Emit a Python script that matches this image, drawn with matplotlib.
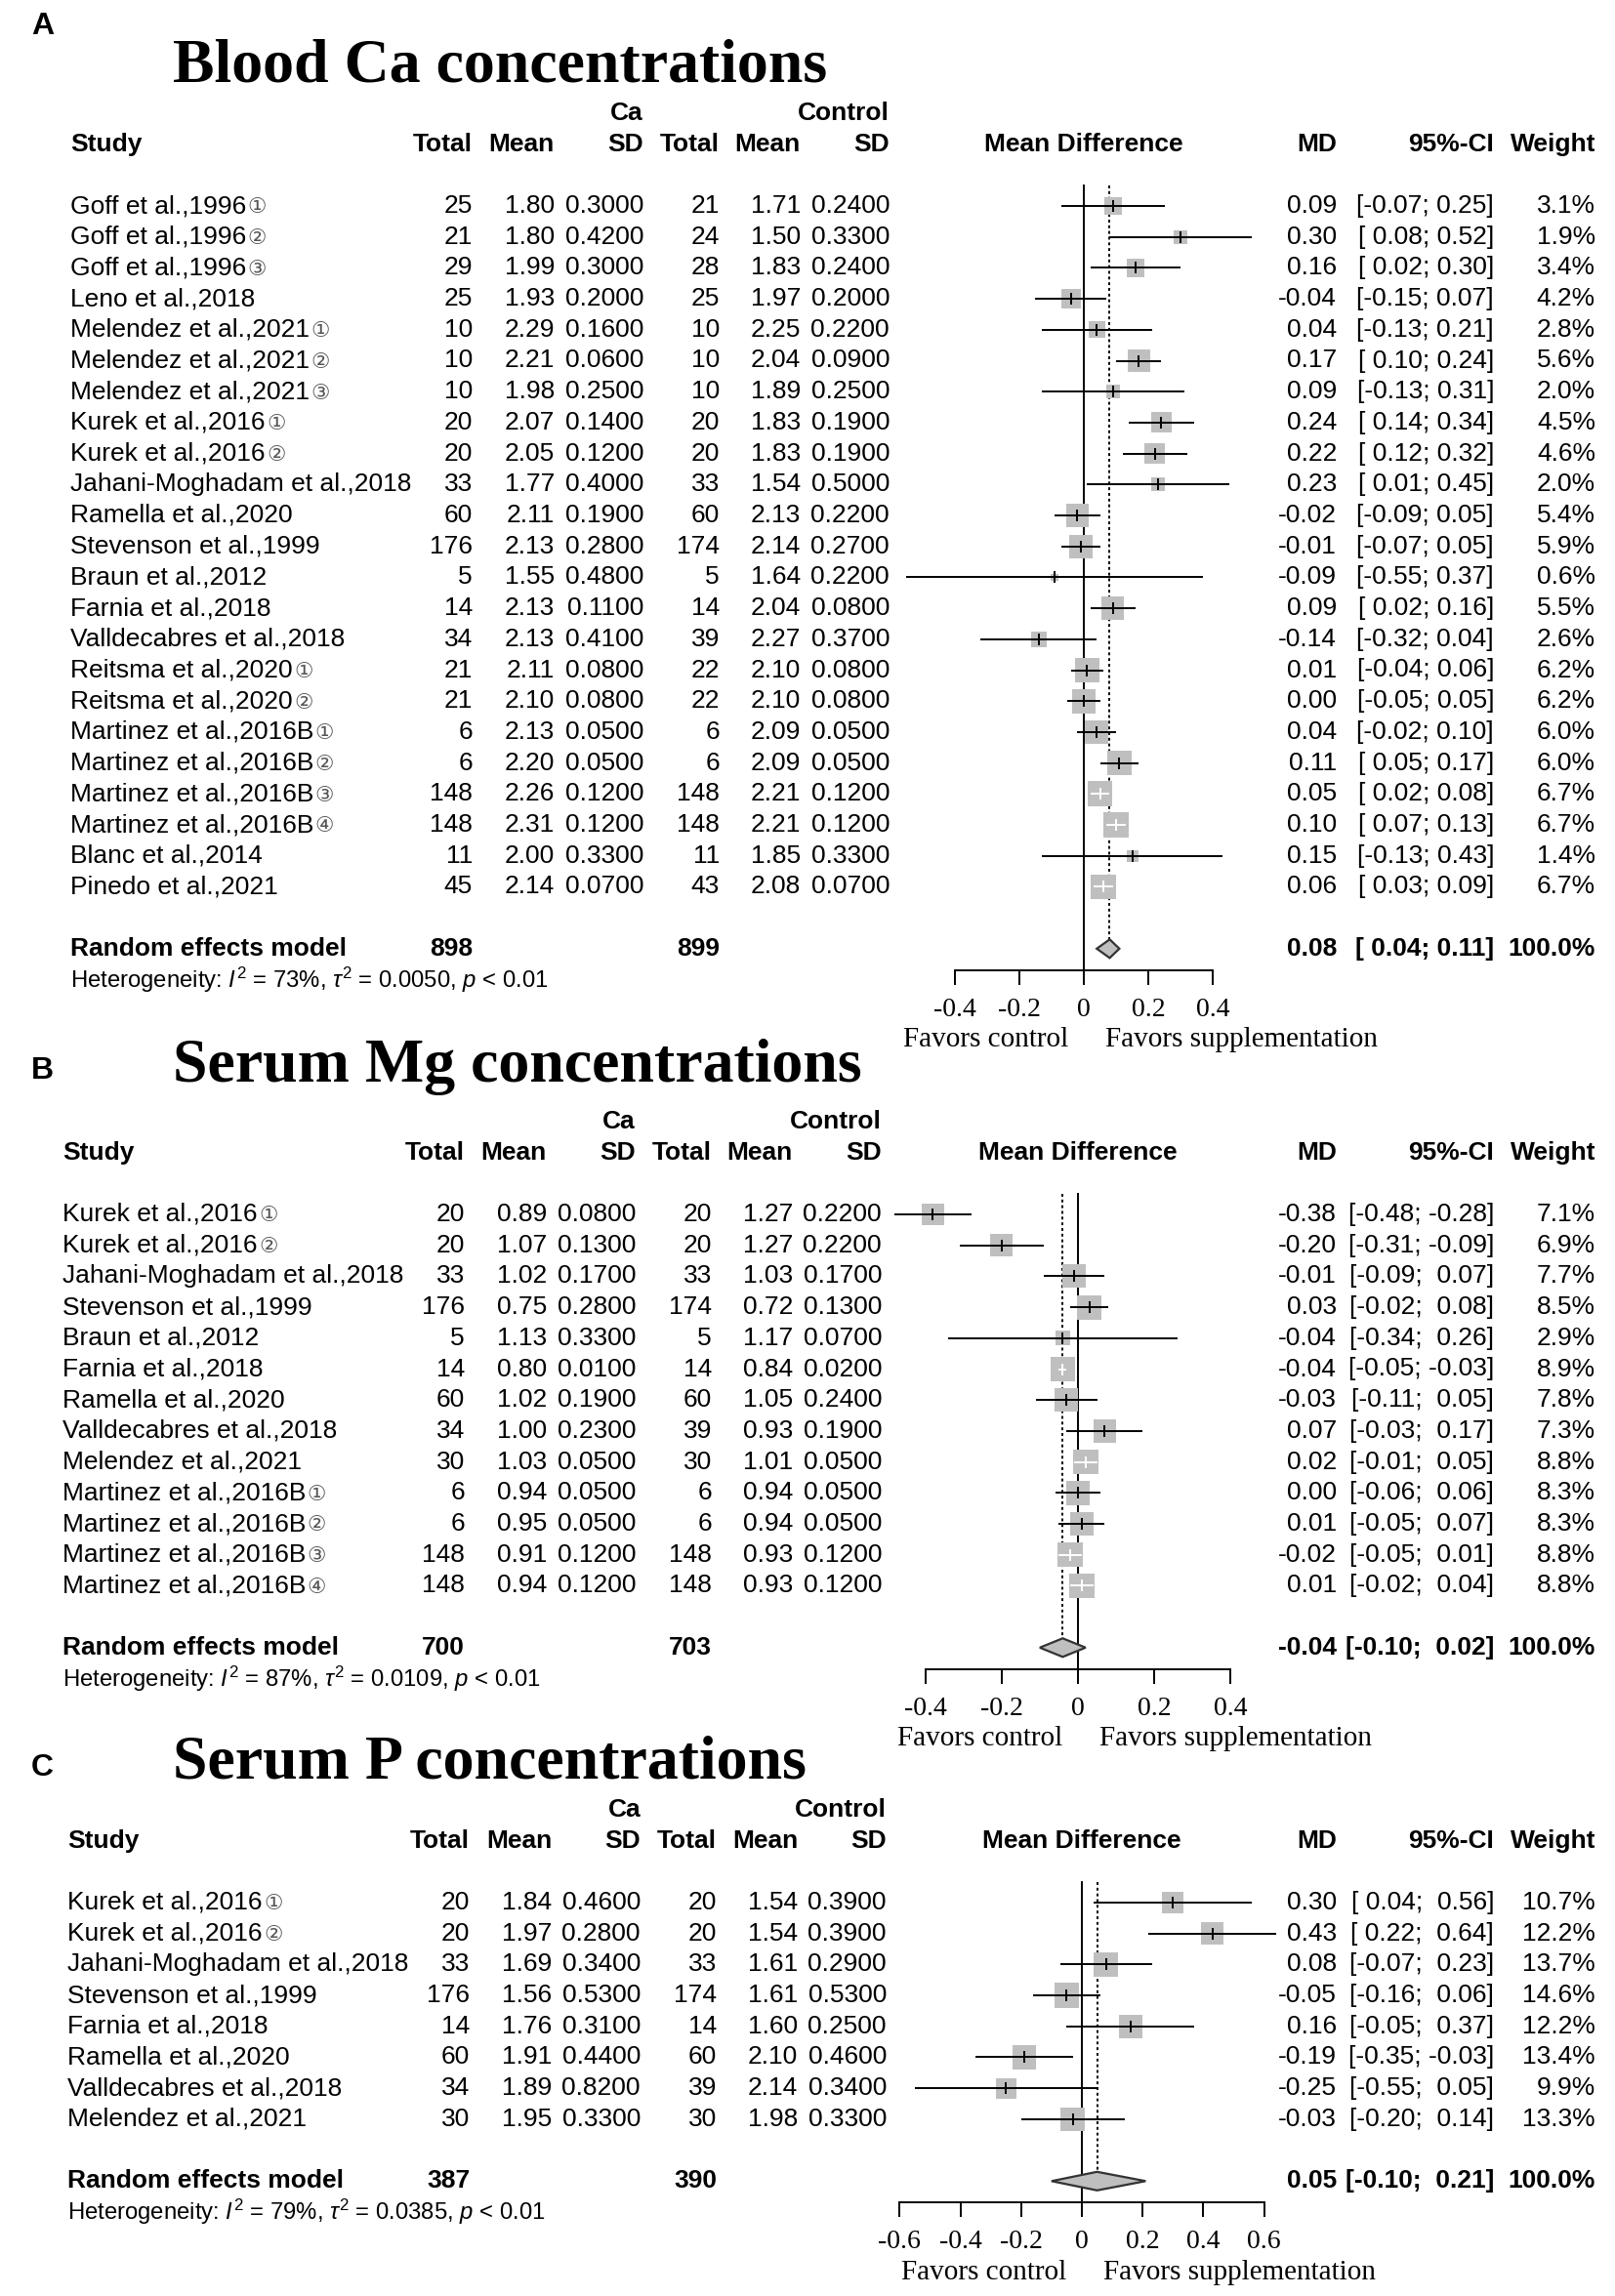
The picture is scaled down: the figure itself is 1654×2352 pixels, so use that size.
import numpy as np
import matplotlib
matplotlib.use("Agg")
import matplotlib.pyplot as plt
from matplotlib.patches import Polygon

plt.rcParams['font.family'] = ['Liberation Sans', 'DejaVu Sans']
plt.rcParams['mathtext.fontset'] = 'custom'
plt.rcParams['mathtext.rm'] = 'Liberation Sans'
plt.rcParams['mathtext.it'] = 'Liberation Sans:italic'
plt.rcParams['mathtext.bf'] = 'Liberation Sans:bold'

# ---------------- data: panel A, blood Ca ----------------
ca_study = ["Goff et al.,1996", "Goff et al.,1996", "Goff et al.,1996", "Leno et al.,2018",
            "Melendez et al.,2021", "Melendez et al.,2021", "Melendez et al.,2021",
            "Kurek et al.,2016", "Kurek et al.,2016", "Jahani-Moghadam et al.,2018",
            "Ramella et al.,2020", "Stevenson et al.,1999", "Braun et al.,2012",
            "Farnia et al.,2018", "Valldecabres et al.,2018", "Reitsma et al.,2020",
            "Reitsma et al.,2020", "Martinez et al.,2016B", "Martinez et al.,2016B",
            "Martinez et al.,2016B", "Martinez et al.,2016B", "Blanc et al.,2014",
            "Pinedo et al.,2021"]
ca_tag = ["①", "②", "③", "", "①", "②", "③", "①", "②", "", "", "", "", "", "", "①", "②",
          "①", "②", "③", "④", "", ""]
ca_n1 = [25, 21, 29, 25, 10, 10, 10, 20, 20, 33, 60, 176, 5, 14, 34, 21, 21, 6, 6, 148, 148, 11, 45]
ca_m1 = [1.80, 1.80, 1.99, 1.93, 2.29, 2.21, 1.98, 2.07, 2.05, 1.77, 2.11, 2.13, 1.55, 2.13, 2.13,
         2.11, 2.10, 2.13, 2.20, 2.26, 2.31, 2.00, 2.14]
ca_sd1 = [0.30, 0.42, 0.30, 0.20, 0.16, 0.06, 0.25, 0.14, 0.12, 0.40, 0.19, 0.28, 0.48, 0.11, 0.41,
          0.08, 0.08, 0.05, 0.05, 0.12, 0.12, 0.33, 0.07]
ca_n2 = [21, 24, 28, 25, 10, 10, 10, 20, 20, 33, 60, 174, 5, 14, 39, 22, 22, 6, 6, 148, 148, 11, 43]
ca_m2 = [1.71, 1.50, 1.83, 1.97, 2.25, 2.04, 1.89, 1.83, 1.83, 1.54, 2.13, 2.14, 1.64, 2.04, 2.27,
         2.10, 2.10, 2.09, 2.09, 2.21, 2.21, 1.85, 2.08]
ca_sd2 = [0.24, 0.33, 0.24, 0.20, 0.22, 0.09, 0.25, 0.19, 0.19, 0.50, 0.22, 0.27, 0.22, 0.08, 0.37,
          0.08, 0.08, 0.05, 0.05, 0.12, 0.12, 0.33, 0.07]
ca_md = [0.09, 0.30, 0.16, -0.04, 0.04, 0.17, 0.09, 0.24, 0.22, 0.23, -0.02, -0.01, -0.09, 0.09,
         -0.14, 0.01, 0.00, 0.04, 0.11, 0.05, 0.10, 0.15, 0.06]
ca_lo = [-0.07, 0.08, 0.02, -0.15, -0.13, 0.10, -0.13, 0.14, 0.12, 0.01, -0.09, -0.07, -0.55, 0.02,
         -0.32, -0.04, -0.05, -0.02, 0.05, 0.02, 0.07, -0.13, 0.03]
ca_hi = [0.25, 0.52, 0.30, 0.07, 0.21, 0.24, 0.31, 0.34, 0.32, 0.45, 0.05, 0.05, 0.37, 0.16, 0.04,
         0.06, 0.05, 0.10, 0.17, 0.08, 0.13, 0.43, 0.09]
ca_w = [3.1, 1.9, 3.4, 4.2, 2.8, 5.6, 2.0, 4.5, 4.6, 2.0, 5.4, 5.9, 0.6, 5.5, 2.6, 6.2, 6.2, 6.0,
        6.0, 6.7, 6.7, 1.4, 6.7]
ca_pool = [0.08, 0.04, 0.11]
ca_total = [898, 899]
ca_het = ["73%", "0.0050", "< 0.01"]

# ---------------- data: panel B, serum Mg ----------------
mg_study = ["Kurek et al.,2016", "Kurek et al.,2016", "Jahani-Moghadam et al.,2018",
            "Stevenson et al.,1999", "Braun et al.,2012", "Farnia et al.,2018", "Ramella et al.,2020",
            "Valldecabres et al.,2018", "Melendez et al.,2021", "Martinez et al.,2016B",
            "Martinez et al.,2016B", "Martinez et al.,2016B", "Martinez et al.,2016B"]
mg_tag = ["①", "②", "", "", "", "", "", "", "", "①", "②", "③", "④"]
mg_n1 = [20, 20, 33, 176, 5, 14, 60, 34, 30, 6, 6, 148, 148]
mg_m1 = [0.89, 1.07, 1.02, 0.75, 1.13, 0.80, 1.02, 1.00, 1.03, 0.94, 0.95, 0.91, 0.94]
mg_sd1 = [0.08, 0.13, 0.17, 0.28, 0.33, 0.01, 0.19, 0.23, 0.05, 0.05, 0.05, 0.12, 0.12]
mg_n2 = [20, 20, 33, 174, 5, 14, 60, 39, 30, 6, 6, 148, 148]
mg_m2 = [1.27, 1.27, 1.03, 0.72, 1.17, 0.84, 1.05, 0.93, 1.01, 0.94, 0.94, 0.93, 0.93]
mg_sd2 = [0.22, 0.22, 0.17, 0.13, 0.07, 0.02, 0.24, 0.19, 0.05, 0.05, 0.05, 0.12, 0.12]
mg_md = [-0.38, -0.20, -0.01, 0.03, -0.04, -0.04, -0.03, 0.07, 0.02, 0.00, 0.01, -0.02, 0.01]
mg_lo = [-0.48, -0.31, -0.09, -0.02, -0.34, -0.05, -0.11, -0.03, -0.01, -0.06, -0.05, -0.05, -0.02]
mg_hi = [-0.28, -0.09, 0.07, 0.08, 0.26, -0.03, 0.05, 0.17, 0.05, 0.06, 0.07, 0.01, 0.04]
mg_w = [7.1, 6.9, 7.7, 8.5, 2.9, 8.9, 7.8, 7.3, 8.8, 8.3, 8.3, 8.8, 8.8]
mg_pool = [-0.04, -0.10, 0.02]
mg_total = [700, 703]
mg_het = ["87%", "0.0109", "< 0.01"]

# ---------------- data: panel C, serum P ----------------
p_study = ["Kurek et al.,2016", "Kurek et al.,2016", "Jahani-Moghadam et al.,2018",
           "Stevenson et al.,1999", "Farnia et al.,2018", "Ramella et al.,2020",
           "Valldecabres et al.,2018", "Melendez et al.,2021"]
p_tag = ["①", "②", "", "", "", "", "", ""]
p_n1 = [20, 20, 33, 176, 14, 60, 34, 30]
p_m1 = [1.84, 1.97, 1.69, 1.56, 1.76, 1.91, 1.89, 1.95]
p_sd1 = [0.46, 0.28, 0.34, 0.53, 0.31, 0.44, 0.82, 0.33]
p_n2 = [20, 20, 33, 174, 14, 60, 39, 30]
p_m2 = [1.54, 1.54, 1.61, 1.61, 1.60, 2.10, 2.14, 1.98]
p_sd2 = [0.39, 0.39, 0.29, 0.53, 0.25, 0.46, 0.34, 0.33]
p_md = [0.30, 0.43, 0.08, -0.05, 0.16, -0.19, -0.25, -0.03]
p_lo = [0.04, 0.22, -0.07, -0.16, -0.05, -0.35, -0.55, -0.20]
p_hi = [0.56, 0.64, 0.23, 0.06, 0.37, -0.03, 0.05, 0.14]
p_w = [10.7, 12.2, 13.7, 14.6, 12.2, 13.4, 9.9, 13.3]
p_pool = [0.05, -0.10, 0.21]
p_total = [387, 390]
p_het = ["79%", "0.0385", "< 0.01"]

W, H = 1654, 2352
DY = 31.7          # row height in pixels
FS = 19            # table font size
SERIF = ['Liberation Serif', 'DejaVu Serif']
GREY = '#bfbfbf'

fig = plt.figure(figsize=(W / 100, H / 100), dpi=100)


def ci_text(lo, hi, wl, wh):
    return "[" + f"{lo:.2f}".rjust(wl) + "; " + f"{hi:.2f}".rjust(wh) + "]"


def panel(letter, title, study, tag, n1, m1, sd1, n2, m2, sd2, md, lo, hi, w, pool, total, het,
          y0, shift, zero_px, ppu, xlim, ticks, letter_y, title_y):
    n = len(study)
    re_i = n + 1
    top_i, bot_i = -6.5, n + 5.0
    top_px, bot_px = y0 + top_i * DY, y0 + bot_i * DY
    rect = [0, 1 - bot_px / H, 1, (bot_px - top_px) / H]
    tab = fig.add_axes(rect)
    tab.set_xlim(0, W)
    tab.set_ylim(bot_i, top_i)
    tab.axis('off')

    left_px = zero_px + xlim[0] * ppu
    fa = fig.add_axes([left_px / W, rect[1], (xlim[1] - xlim[0]) * ppu / W, rect[3]])
    fa.set_xlim(*xlim)
    fa.set_ylim(bot_i, top_i)
    fa.patch.set_visible(False)

    # column positions (right edges) in pixels
    c_study = 72 + shift
    cols = [484, 568, 659, 737, 820, 911]
    cols = [c + shift for c in cols]
    c_md, c_ci, c_w = 1369, 1530, 1634

    tab.text(32, letter_y, letter, fontsize=23, fontweight='bold', ha='left', va='center')
    tab.text(177, title_y, title, fontsize=46, fontweight='bold', family=SERIF,
             ha='left', va='center')
    tab.text(cols[2], -3, "Ca", fontsize=FS, fontweight='bold', ha='right', va='center')
    tab.text(cols[5], -3, "Control", fontsize=FS, fontweight='bold', ha='right', va='center')
    heads = ["Total", "Mean", "SD", "Total", "Mean", "SD"]
    tab.text(c_study, -2, "Study", fontsize=FS, fontweight='bold', ha='left', va='center')
    for c, h in zip(cols, heads):
        tab.text(c, -2, h, fontsize=FS, fontweight='bold', ha='right', va='center')
    fa.text(0, -2, "Mean Difference", fontsize=FS, fontweight='bold', ha='center', va='center')
    tab.text(c_md, -2, "MD", fontsize=FS, fontweight='bold', ha='right', va='center')
    tab.text(c_ci, -2, "95%-CI", fontsize=FS, fontweight='bold', ha='right', va='center')
    tab.text(c_w, -2, "Weight", fontsize=FS, fontweight='bold', ha='right', va='center')

    wl = max(len(f"{v:.2f}") for v in list(lo) + [pool[1]])
    wh = max(len(f"{v:.2f}") for v in list(hi) + [pool[2]])
    for i in range(n):
        t = tab.text(c_study, i, study[i], fontsize=FS, ha='left', va='center')
        if tag[i]:
            tab.annotate(tag[i], xy=(1, 0.19), xycoords=t, xytext=(1, 0), textcoords='offset points',
                         fontsize=15.5, color='#555555', ha='left', va='baseline',
                         family=['DejaVu Sans', 'Noto Sans CJK SC'])
        vals = [f"{n1[i]}", f"{m1[i]:.2f}", f"{sd1[i]:.4f}", f"{n2[i]}", f"{m2[i]:.2f}", f"{sd2[i]:.4f}"]
        for c, v in zip(cols, vals):
            tab.text(c, i, v, fontsize=FS, ha='right', va='center')
        tab.text(c_md, i, f"{md[i]:.2f}", fontsize=FS, ha='right', va='center')
        tab.text(c_ci, i, ci_text(lo[i], hi[i], wl, wh), fontsize=FS, ha='right', va='center')
        tab.text(c_w, i, f"{w[i]:.1f}%", fontsize=FS, ha='right', va='center')

    # summary row
    tab.text(c_study, re_i, "Random effects model", fontsize=FS, fontweight='bold', ha='left', va='center')
    tab.text(cols[0], re_i, f"{total[0]}", fontsize=FS, fontweight='bold', ha='right', va='center')
    tab.text(cols[3], re_i, f"{total[1]}", fontsize=FS, fontweight='bold', ha='right', va='center')
    tab.text(c_md, re_i, f"{pool[0]:.2f}", fontsize=FS, fontweight='bold', ha='right', va='center')
    tab.text(c_ci, re_i, ci_text(pool[1], pool[2], wl, wh), fontsize=FS, fontweight='bold',
             ha='right', va='center')
    tab.text(c_w, re_i, "100.0%", fontsize=FS, fontweight='bold', ha='right', va='center')
    tab.text(c_study, re_i + 1.0,
             r"Heterogeneity: $I^2$ = " + het[0] + r", $\tau^2$ = " + het[1] + r", $p$ " + het[2],
             fontsize=17.2, ha='left', va='center')

    # forest marks
    wmax = max(w)
    side_pt = 18.5 * np.sqrt(np.array(w) / wmax)
    ys = np.arange(n)
    fa.scatter(md, ys, s=side_pt ** 2, marker='s', color=GREY, linewidths=0, zorder=2)
    for i in range(n):
        inside = (hi[i] - lo[i]) * ppu < side_pt[i] * 100 / 72
        col = 'white' if inside else 'black'
        fa.plot([lo[i], hi[i]], [i, i], color=col, lw=1.4, zorder=3, solid_capstyle='butt')
        fa.plot([md[i]], [i], marker='|', ms=8, mew=1.4, color=col, zorder=4)

    dh = 0.3
    fa.add_patch(Polygon([(pool[1], re_i), (pool[0], re_i - dh), (pool[2], re_i),
                          (pool[0], re_i + dh)], closed=True, facecolor=GREY,
                         edgecolor='#333333', lw=1.6, zorder=3))
    axis_y = re_i + 0.7
    fa.plot([0, 0], [-0.65, axis_y], color='black', lw=1.4, zorder=1)
    fa.plot([pool[0], pool[0]], [-0.65, re_i - dh], color='black', lw=1.4,
            ls=(0, (1.5, 1.5)), zorder=1)

    for s in ['left', 'right', 'top']:
        fa.spines[s].set_visible(False)
    fa.spines['bottom'].set_position(('data', axis_y))
    fa.spines['bottom'].set_bounds(ticks[0], ticks[-1])
    fa.spines['bottom'].set_linewidth(1.4)
    fa.set_yticks([])
    fa.set_xticks(ticks)
    fa.set_xticklabels([f"{t:g}" for t in ticks])
    fa.tick_params(axis='x', direction='out', length=11, width=1.4, pad=9, labelsize=20)
    for lab in fa.get_xticklabels():
        lab.set_family(SERIF)

    fa.annotate("Favors control", xy=(0, re_i + 2.95), xycoords='data', xytext=(-11, 0),
                textcoords='offset points', ha='right', va='center', fontsize=21, family=SERIF)
    fa.annotate("Favors supplementation", xy=(0, re_i + 2.95), xycoords='data', xytext=(16, 0),
                textcoords='offset points', ha='left', va='center', fontsize=21, family=SERIF)


panel("A", "Blood Ca concentrations", ca_study, ca_tag, ca_n1, ca_m1, ca_sd1, ca_n2, ca_m2, ca_sd2,
      ca_md, ca_lo, ca_hi, ca_w, ca_pool, ca_total, ca_het,
      y0=211, shift=0, zero_px=1110, ppu=331, xlim=(-0.6, 0.6), ticks=[-0.4, -0.2, 0, 0.2, 0.4],
      letter_y=-5.8, title_y=-4.5)
panel("B", "Serum Mg concentrations", mg_study, mg_tag, mg_n1, mg_m1, mg_sd1, mg_n2, mg_m2, mg_sd2,
      mg_md, mg_lo, mg_hi, mg_w, mg_pool, mg_total, mg_het,
      y0=1244, shift=-8, zero_px=1104, ppu=391, xlim=(-0.55, 0.55), ticks=[-0.4, -0.2, 0, 0.2, 0.4],
      letter_y=-4.65, title_y=-4.75)
panel("C", "Serum P concentrations", p_study, p_tag, p_n1, p_m1, p_sd1, p_n2, p_m2, p_sd2,
      p_md, p_lo, p_hi, p_w, p_pool, p_total, p_het,
      y0=1949, shift=-3, zero_px=1108, ppu=311, xlim=(-0.7, 0.7),
      ticks=[-0.6, -0.4, -0.2, 0, 0.2, 0.4, 0.6], letter_y=-4.35, title_y=-4.5)

fig.savefig("out.png", dpi=100, facecolor='white')
